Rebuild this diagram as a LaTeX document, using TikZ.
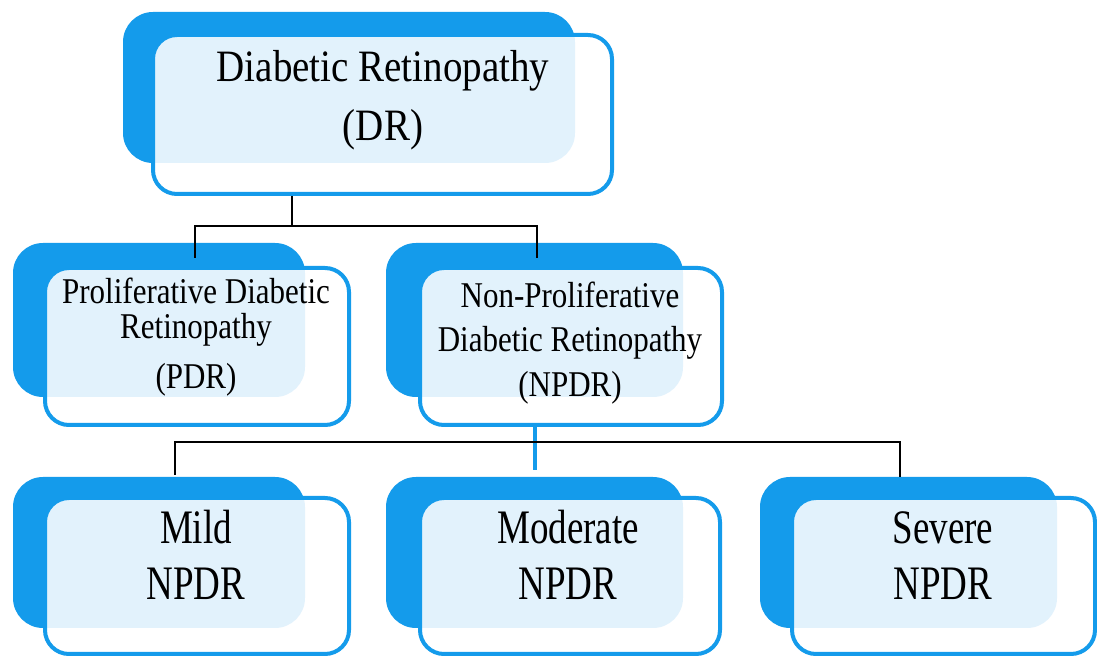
\documentclass[tikz,border=0pt]{standalone}
\usepackage{fontspec}
\usepackage{graphicx}
\setmainfont{Liberation Serif}
\definecolor{drblue}{RGB}{20,155,235}
\newcommand\tallrows[2]{\scalebox{1}[#1]{\begin{tabular}{@{}c@{}}#2\end{tabular}}}

\begin{document}
\begin{tikzpicture}[x=0.5pt,y=-0.5pt,
  back/.style={rectangle, rounded corners=15pt, fill=drblue, inner sep=0pt},
  front/.style={rectangle, rounded corners=12pt, draw=drblue, line width=2pt,
    fill=white, fill opacity=0.88, inner sep=0pt},
  label/.style={align=center, inner sep=0pt},
  link/.style={line width=1pt, black}]
  \useasboundingbox (0,0) rectangle (1097,656);

  % top level
  \node[back, minimum width=226pt, minimum height=75.5pt] (drb) at (349,87.5) {};
  \node[front, minimum width=229.5pt, minimum height=79.5pt] (dr) at (382.5,114.5) {};
  \node[label, font=\fontsize{19.5}{26}\selectfont] (drtext) at (383,99)
    {\tallrows{1.15}{Diabetic Retinopathy\\(DR)}};

  % second level
  \node[back, minimum width=146pt, minimum height=77pt] (pdrb) at (159,320) {};
  \node[front, minimum width=152pt, minimum height=78.5pt] (pdr) at (197,346.5) {};
  \node[label, font=\fontsize{15.5}{13}\selectfont] (pdrtext) at (196,338)
    {\tallrows{1.17}{Proliferative Diabetic\\Retinopathy\\[7pt](PDR)}};

  \node[back, minimum width=148.5pt, minimum height=77pt] (npdrb) at (534.5,320) {};
  \node[front, minimum width=151pt, minimum height=78.5pt] (npdr) at (571,346.5) {};
  \node[label, font=\fontsize{15.5}{19.2}\selectfont] (npdrtext) at (570,343)
    {\tallrows{1.17}{Non-Proliferative\\Diabetic Retinopathy\\(NPDR)}};

  % third level
  \node[back, minimum width=146pt, minimum height=75.5pt] (mildb) at (159,552.5) {};
  \node[front, minimum width=152pt, minimum height=78pt] (mild) at (197,576) {};
  \node[label, font=\fontsize{18.5}{21.5}\selectfont] (mildtext) at (196,560)
    {\tallrows{1.3}{Mild\\NPDR}};

  \node[back, minimum width=148.5pt, minimum height=75.5pt] (modb) at (534.5,552.5) {};
  \node[front, minimum width=150pt, minimum height=78pt] (mod) at (570,576) {};
  \node[label, font=\fontsize{18.5}{21.5}\selectfont] (modtext) at (568,560)
    {\tallrows{1.3}{Moderate\\NPDR}};

  \node[back, minimum width=148.5pt, minimum height=75.5pt] (sevb) at (908.5,552.5) {};
  \node[front, minimum width=151.5pt, minimum height=78pt] (sev) at (943.5,576) {};
  \node[label, font=\fontsize{18.5}{21.5}\selectfont] (sevtext) at (943,560)
    {\tallrows{1.3}{Severe\\NPDR}};

  % connectors
  \coordinate (tj) at (292,226);
  \coordinate (pdrin) at (195,258);
  \coordinate (npdrin) at (537,258);
  \draw[link] (dr.south -| tj) -- (tj);
  \draw[link] (pdrin) |- (tj) -| (npdrin);

  \coordinate (bj) at (535,442);
  \coordinate (modin) at (535,470);
  \coordinate (mildin) at (175,475);
  \coordinate (sevin) at (900,477);
  \draw[drblue, line width=2pt] (npdr.south -| bj) -- (modin);
  \draw[link] (mildin) |- (bj) -| (sevin);
\end{tikzpicture}
\end{document}
